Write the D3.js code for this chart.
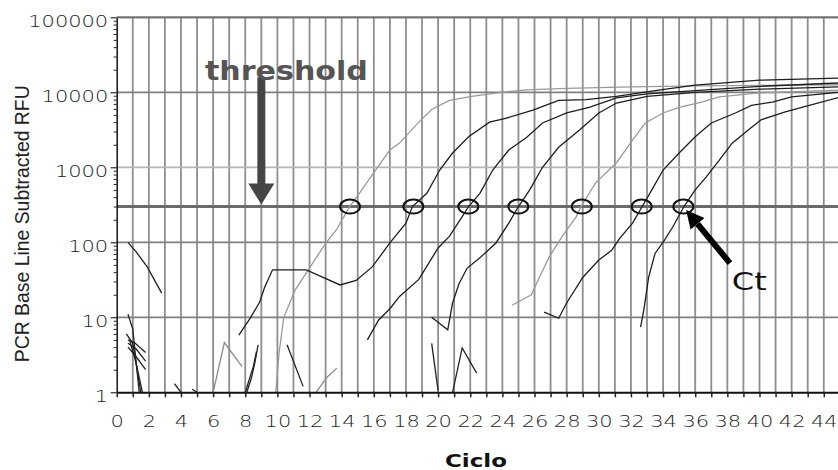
<!DOCTYPE html>
<html>
<head>
<meta charset="utf-8">
<script src="https://cdn.jsdelivr.net/npm/d3@7"></script>
<style>
  html, body { margin: 0; padding: 0; background: #fff; }
  svg { display: block; }
</style>
</head>
<body>
<div id="chart"></div>
<script>
// values
const cycleTicks = d3.range(0, 45);
const rfuTicks = [1, 10, 100, 1000, 10000, 100000];
const thresholdRFU = 300;
const ctCycles = [14.52, 18.46, 21.88, 24.99, 28.94, 32.67, 35.26];

// amplification curves [cycle, RFU]
const curve1 = [[9.9,1],[10.1,3.3],[10.4,10],[11.1,23],[11.8,39],[13.0,97],[13.7,150],[14.5,300],[15.1,450],[16.0,850],[17.0,1700],[17.6,2100],[18.8,4000],[19.6,5900],[20.7,7800],[22.1,8800],[23.8,9900],[25.5,10800],[28,11300],[32,11800],[36,12200],[40,12400],[44.9,12600]];
const curve2 = [[7.6,5.8],[8.3,9.7],[8.9,16],[9.2,25],[9.7,43],[11.8,43],[13.9,27],[14.9,31],[15.9,47],[17.0,98],[18.0,180],[18.4,300],[19.3,450],[20.1,920],[20.9,1550],[21.9,2550],[23.2,4000],[24.2,4500],[25.9,5800],[27.5,7800],[29.2,8000],[31.1,8800],[33.5,10500],[36,12500],[40,14500],[44.9,15500]];
const curve3 = [[15.6,5],[16.3,9.2],[17.0,13],[17.6,19],[18.8,32],[20.0,84],[20.7,120],[21.5,220],[21.9,300],[22.6,450],[23.4,920],[24.4,1700],[25.5,2500],[26.5,3900],[28,5300],[29.4,6300],[31.1,8400],[33,9500],[36,10500],[40,12000],[44.9,13300]];
const curve4 = [[19.6,10],[20.6,6.8],[20.9,15.5],[21.3,28],[21.8,45],[22.6,62],[23.6,98],[24.4,180],[25.0,300],[25.7,500],[26.5,1000],[27.5,1850],[28.8,3150],[30,5300],[31.1,7200],[33,8800],[36,10000],[40,11000],[44.9,11800]];
const curve5 = [[24.6,14.5],[25.8,20],[26.3,34],[26.9,63],[27.7,118],[28.6,220],[28.9,300],[29.8,620],[31.1,1150],[32.1,2300],[32.9,3900],[34,5300],[35,6300],[36.4,7400],[37.5,8700],[40,9800],[44.9,10700]];
const curve6 = [[26.6,11.7],[27.5,9.7],[28.0,15.5],[29,34],[30,58],[30.8,78],[31.3,113],[32.1,180],[32.7,300],[33.3,500],[34,920],[35,1550],[36,2550],[37,3900],[38.5,5300],[39.5,6700],[40.8,7400],[42,8700],[44.9,10000]];
const curve7 = [[32.6,7.4],[32.8,12.5],[33.1,34],[33.5,71],[34.1,108],[34.6,160],[35.3,300],[36,500],[36.7,750],[37.5,1250],[38.3,2100],[39.3,3150],[40.1,4300],[41.6,5500],[43.1,6700],[44.9,8500]];

// baseline noise fragments
const noiseDark = [
  [[0.7,100],[1.2,75],[1.9,47],[2.8,21]],
  [[0.7,11],[1.0,7],[1.4,1]],
  [[0.6,6],[1.0,4.5],[1.5,1]],
  [[0.7,5],[1.1,4.6],[1.8,3.4]],
  [[0.7,4.5],[1.2,3.8],[1.8,2.6]],
  [[0.7,4],[1.2,3],[1.8,2]],
  [[0.8,5],[1.2,2.5],[1.6,1]],
  [[3.6,1.3],[4.0,1]],
  [[4.7,1.1],[5.0,1]],
  [[8.1,1],[8.4,1.6],[8.6,2.5],[8.8,4.3]],
  [[8.0,1],[8.5,2.2],[8.7,3.5]],
  [[10.6,4.3],[11.6,1.2]],
  [[19.6,4.5],[20.0,1.05]],
  [[20.9,1],[21.5,3.9],[22.4,1.8]]
];
const noiseGray = [
  [[6.0,1],[6.7,4.6],[7.8,2.2]],
  [[12.4,1],[13.1,1.6],[13.7,2.1]]
];

const grayCurves = [curve1, curve5];
const darkCurves = [curve2, curve3, curve4, curve6, curve7];

function drawChart(containerId)
{
    const width = 838;
    const height = 470;

    const svg = d3.select(containerId)
        .append('svg')
        .attr('width', width)
        .attr('height', height);

    // scales: 16.07 px per cycle, 75 px per decade
    const x = d3.scaleLinear()
        .domain([0, 45])
        .range([116.7, 116.7 + 45 * 16.07]);

    const y = d3.scaleLog()
        .domain([1, 100000])
        .range([392.3, 17.3]);

    const font = '"DejaVu Sans", Verdana, sans-serif';

    svg.append('defs').append('clipPath')
        .attr('id', 'plot-clip')
        .append('rect')
        .attr('x', x(0))
        .attr('y', y(100000))
        .attr('width', width - x(0))
        .attr('height', y(1) - y(100000));

    // vertical grid, one per cycle
    svg.append('g')
        .selectAll('line')
        .data(cycleTicks.filter(c => c > 0))
        .enter()
        .append('line')
        .attr('x1', d => x(d))
        .attr('x2', d => x(d))
        .attr('y1', y(1))
        .attr('y2', y(100000))
        .attr('stroke', '#8e8e8e')
        .attr('stroke-width', 1.8);

    // horizontal grid at decades
    svg.append('g')
        .selectAll('line')
        .data(rfuTicks.filter(v => v > 1))
        .enter()
        .append('line')
        .attr('x1', x(0))
        .attr('x2', width)
        .attr('y1', d => y(d))
        .attr('y2', d => y(d))
        .attr('stroke', d => d === 1000 ? '#b4b4b4' : '#808080')
        .attr('stroke-width', 1.8);

    // threshold line
    svg.append('line')
        .attr('x1', x(0))
        .attr('x2', width)
        .attr('y1', y(thresholdRFU))
        .attr('y2', y(thresholdRFU))
        .attr('stroke', '#6a6a6a')
        .attr('stroke-width', 3);

    // curves
    const line = d3.line()
        .x(d => x(d[0]))
        .y(d => y(d[1]));

    const plot = svg.append('g').attr('clip-path', 'url(#plot-clip)');

    plot.selectAll('.noise-gray')
        .data(noiseGray)
        .enter()
        .append('path')
        .attr('d', line)
        .attr('fill', 'none')
        .attr('stroke', '#8a8a8a')
        .attr('stroke-width', 1.3);

    plot.selectAll('.noise-dark')
        .data(noiseDark)
        .enter()
        .append('path')
        .attr('d', line)
        .attr('fill', 'none')
        .attr('stroke', '#222')
        .attr('stroke-width', 1.3);

    plot.selectAll('.curve-gray')
        .data(grayCurves)
        .enter()
        .append('path')
        .attr('d', line)
        .attr('fill', 'none')
        .attr('stroke', '#9a9a9a')
        .attr('stroke-width', 1.3);

    plot.selectAll('.curve-dark')
        .data(darkCurves)
        .enter()
        .append('path')
        .attr('d', line)
        .attr('fill', 'none')
        .attr('stroke', '#1e1e1e')
        .attr('stroke-width', 1.3);

    // Ct circles on the threshold
    svg.append('g')
        .selectAll('ellipse')
        .data(ctCycles)
        .enter()
        .append('ellipse')
        .attr('cx', d => x(d))
        .attr('cy', y(thresholdRFU))
        .attr('rx', 10)
        .attr('ry', 7)
        .attr('fill', 'none')
        .attr('stroke', '#111')
        .attr('stroke-width', 2);

    // left axis, log ticks
    const minorTicks = [];
    rfuTicks.slice(0, -1).forEach(d => {
        for (let k = 2; k < 10; k++) minorTicks.push(d * k);
    });

    svg.append('g')
        .attr('transform', `translate(${x(0)},0)`)
        .call(d3.axisLeft(y).tickValues(minorTicks).tickSize(3).tickFormat(''))
        .call(g => g.select('.domain').remove())
        .selectAll('line')
        .attr('stroke', '#222');

    const yAxis = svg.append('g')
        .attr('transform', `translate(${x(0)},0)`)
        .call(d3.axisLeft(y).tickValues(rfuTicks).tickSize(6).tickSizeOuter(0).tickFormat(d3.format('d')));
    yAxis.select('.domain').attr('stroke', '#111').attr('stroke-width', 1.5);
    yAxis.selectAll('text')
        .attr('x', 0)
        .attr('dy', 0)
        .attr('transform', 'translate(-8.5,9.5) scale(1.31,1)')
        .attr('font-family', font)
        .attr('font-weight', 200)
        .attr('font-size', 16)
        .attr('fill', '#222');

    // bottom axis
    const xAxis = svg.append('g')
        .attr('transform', `translate(0,${y(1)})`)
        .call(d3.axisBottom(x).tickValues(cycleTicks).tickSize(5).tickSizeOuter(0)
            .tickFormat(d => d % 2 ? '' : d));
    xAxis.select('.domain').attr('stroke', '#111').attr('stroke-width', 2);
    xAxis.selectAll('line').attr('stroke', '#222').attr('stroke-width', 1.5);
    xAxis.selectAll('text')
        .attr('y', 0)
        .attr('dy', 0)
        .attr('transform', 'translate(0,34.5) scale(1.31,1)')
        .attr('font-family', font)
        .attr('font-weight', 200)
        .attr('font-size', 16)
        .attr('fill', '#222');

    // top border
    svg.append('line')
        .attr('x1', x(0))
        .attr('x2', width)
        .attr('y1', y(100000))
        .attr('y2', y(100000))
        .attr('stroke', '#707070')
        .attr('stroke-width', 1.8);

    // threshold annotation
    const ax = x(9);
    const aTop = y(15800);
    const aTip = y(thresholdRFU) - 2;
    svg.append('rect')
        .attr('x', ax - 4)
        .attr('y', aTop)
        .attr('width', 8)
        .attr('height', aTip - 20 - aTop)
        .attr('fill', '#454545');
    svg.append('polygon')
        .attr('points', `${ax - 13},${aTip - 21} ${ax + 13},${aTip - 21} ${ax},${aTip}`)
        .attr('fill', '#454545');

    svg.append('text')
        .attr('x', x(5.49))
        .attr('y', y(14600))
        .attr('font-family', font)
        .attr('font-weight', 'bold')
        .attr('font-size', 26)
        .attr('textLength', 163)
        .attr('lengthAdjust', 'spacingAndGlyphs')
        .attr('fill', '#555')
        .text('threshold');

    // Ct arrow
    const tx = x(38.16), ty = y(52.8);
    const hx = x(35.43), hy = y(270);
    const len = Math.hypot(hx - tx, hy - ty);
    const ux = (hx - tx) / len, uy = (hy - ty) / len;
    const headLen = 18, headHalf = 9;
    const bx = hx - ux * headLen, by = hy - uy * headLen;
    svg.append('line')
        .attr('x1', tx)
        .attr('y1', ty)
        .attr('x2', bx)
        .attr('y2', by)
        .attr('stroke', '#000')
        .attr('stroke-width', 6);
    svg.append('polygon')
        .attr('points', `${hx},${hy} ${bx - uy * headHalf},${by + ux * headHalf} ${bx + uy * headHalf},${by - ux * headHalf}`)
        .attr('fill', '#000');

    svg.append('text')
        .attr('x', x(38.28))
        .attr('y', y(23))
        .attr('font-family', font)
        .attr('font-size', 25)
        .attr('textLength', 35)
        .attr('lengthAdjust', 'spacingAndGlyphs')
        .attr('fill', '#111')
        .text('Ct');

    // axis titles
    svg.append('text')
        .attr('transform', `translate(29,${(y(1) + y(100000)) / 2 + 19}) rotate(-90) scale(1,1.3)`)
        .attr('text-anchor', 'middle')
        .attr('font-family', '"Liberation Sans", Arial, sans-serif')
        .attr('font-size', 16)
        .attr('textLength', 277)
        .attr('lengthAdjust', 'spacingAndGlyphs')
        .attr('fill', '#222')
        .text('PCR Base Line Subtracted RFU');

    svg.append('text')
        .attr('x', 476)
        .attr('y', 466.5)
        .attr('text-anchor', 'middle')
        .attr('font-family', font)
        .attr('font-weight', 'bold')
        .attr('font-size', 18)
        .attr('textLength', 62)
        .attr('lengthAdjust', 'spacingAndGlyphs')
        .attr('fill', '#111')
        .text('Ciclo');
}

drawChart('#chart');
</script>
</body>
</html>
